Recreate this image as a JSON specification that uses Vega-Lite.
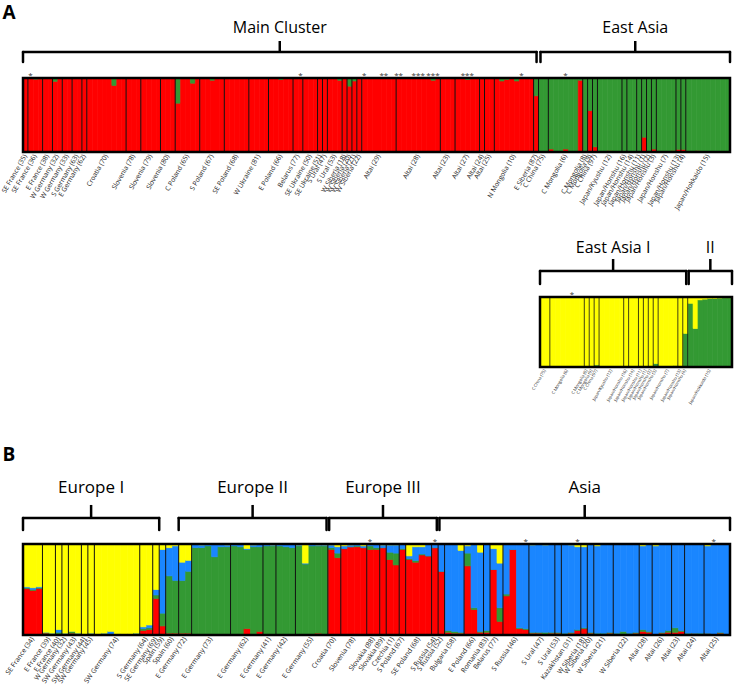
{
"$schema":"https://vega.github.io/schema/vega-lite/v6.json",
"width":738,"height":696,"autosize":"none","padding":0,"background":"white",
"config":{"view":{"stroke":null},"text":{"font":"Open Sans"}},
"datasets":{
"clusters":[{"k":"red","o":1},{"k":"green","o":2},{"k":"blue","o":3},{"k":"yellow","o":4}],
"a1":[
{"i":0,"p":"SE France (35)","red":1,"green":0},
{"i":1,"p":"SE France (36)","red":1,"green":0,"a":"*"},
{"i":2,"p":"SE France (36)","red":0.985,"green":0.015},
{"i":3,"p":"SE France (36)","red":0.99,"green":0.01},
{"i":4,"p":"E France (38)","red":1,"green":0},
{"i":5,"p":"E France (38)","red":1,"green":0},
{"i":6,"p":"W Germany (32)","red":0.955,"green":0.045},
{"i":7,"p":"W Germany (32)","red":1,"green":0},
{"i":8,"p":"W Germany (33)","red":1,"green":0},
{"i":9,"p":"W Germany (33)","red":1,"green":0},
{"i":10,"p":"S Germany (63)","red":1,"green":0},
{"i":11,"p":"S Germany (63)","red":0.995,"green":0.005},
{"i":12,"p":"E Germany (62)","red":1,"green":0},
{"i":13,"p":"Croatia (70)","red":1,"green":0},
{"i":14,"p":"Croatia (70)","red":1,"green":0},
{"i":15,"p":"Croatia (70)","red":1,"green":0},
{"i":16,"p":"Croatia (70)","red":1,"green":0},
{"i":17,"p":"Croatia (70)","red":1,"green":0},
{"i":18,"p":"Croatia (70)","red":0.9,"green":0.1},
{"i":19,"p":"Croatia (70)","red":1,"green":0},
{"i":20,"p":"Croatia (70)","red":1,"green":0},
{"i":21,"p":"Slovenia (78)","red":1,"green":0},
{"i":22,"p":"Slovenia (78)","red":1,"green":0},
{"i":23,"p":"Slovenia (78)","red":1,"green":0},
{"i":24,"p":"Slovenia (79)","red":1,"green":0},
{"i":25,"p":"Slovenia (79)","red":1,"green":0},
{"i":26,"p":"Slovenia (79)","red":1,"green":0},
{"i":27,"p":"Slovenia (79)","red":1,"green":0},
{"i":28,"p":"Slovenia (80)","red":1,"green":0},
{"i":29,"p":"Slovenia (80)","red":1,"green":0},
{"i":30,"p":"Slovenia (80)","red":1,"green":0},
{"i":31,"p":"C Poland (65)","red":0.66,"green":0.34},
{"i":32,"p":"C Poland (65)","red":1,"green":0},
{"i":33,"p":"C Poland (65)","red":1,"green":0},
{"i":34,"p":"C Poland (65)","red":0.93,"green":0.07},
{"i":35,"p":"C Poland (65)","red":1,"green":0},
{"i":36,"p":"S Poland (67)","red":1,"green":0},
{"i":37,"p":"S Poland (67)","red":1,"green":0},
{"i":38,"p":"S Poland (67)","red":0.97,"green":0.03},
{"i":39,"p":"S Poland (67)","red":1,"green":0},
{"i":40,"p":"S Poland (67)","red":1,"green":0},
{"i":41,"p":"SE Poland (68)","red":1,"green":0},
{"i":42,"p":"SE Poland (68)","red":1,"green":0},
{"i":43,"p":"SE Poland (68)","red":1,"green":0},
{"i":44,"p":"SE Poland (68)","red":0.995,"green":0.005},
{"i":45,"p":"SE Poland (68)","red":1,"green":0},
{"i":46,"p":"W Ukraine (81)","red":1,"green":0},
{"i":47,"p":"W Ukraine (81)","red":1,"green":0},
{"i":48,"p":"W Ukraine (81)","red":1,"green":0},
{"i":49,"p":"W Ukraine (81)","red":1,"green":0},
{"i":50,"p":"E Poland (66)","red":1,"green":0},
{"i":51,"p":"E Poland (66)","red":1,"green":0},
{"i":52,"p":"E Poland (66)","red":0.98,"green":0.02},
{"i":53,"p":"E Poland (66)","red":1,"green":0},
{"i":54,"p":"E Poland (66)","red":1,"green":0},
{"i":55,"p":"Belarus (77)","red":1,"green":0},
{"i":56,"p":"Belarus (77)","red":1,"green":0,"a":"*"},
{"i":57,"p":"SE Ukraine (50)","red":1,"green":0},
{"i":58,"p":"SE Ukraine (50)","red":1,"green":0},
{"i":59,"p":"SE Ukraine (50)","red":1,"green":0},
{"i":60,"p":"SE Ukraine (51)","red":1,"green":0},
{"i":61,"p":"S Ural (47)","red":1,"green":0},
{"i":62,"p":"S Ural (53)","red":1,"green":0},
{"i":63,"p":"S Ural (53)","red":1,"green":0},
{"i":64,"p":"S Ural (53)","red":0.97,"green":0.03},
{"i":65,"p":"W Siberia (18)","red":1,"green":0},
{"i":66,"p":"W Siberia (20)","red":0.89,"green":0.11},
{"i":67,"p":"W Siberia (21)","red":0.96,"green":0.04},
{"i":68,"p":"W Siberia (22)","red":1,"green":0},
{"i":69,"p":"Altai (29)","red":1,"green":0,"a":"*"},
{"i":70,"p":"Altai (29)","red":1,"green":0},
{"i":71,"p":"Altai (29)","red":1,"green":0},
{"i":72,"p":"Altai (29)","red":1,"green":0},
{"i":73,"p":"Altai (29)","red":1,"green":0,"a":"**"},
{"i":74,"p":"Altai (29)","red":1,"green":0},
{"i":75,"p":"Altai (29)","red":1,"green":0},
{"i":76,"p":"Altai (28)","red":1,"green":0,"a":"**"},
{"i":77,"p":"Altai (28)","red":1,"green":0},
{"i":78,"p":"Altai (28)","red":1,"green":0},
{"i":79,"p":"Altai (28)","red":1,"green":0},
{"i":80,"p":"Altai (28)","red":1,"green":0,"a":"***"},
{"i":81,"p":"Altai (28)","red":1,"green":0},
{"i":82,"p":"Altai (28)","red":1,"green":0},
{"i":83,"p":"Altai (28)","red":0.97,"green":0.03,"a":"***"},
{"i":84,"p":"Altai (28)","red":1,"green":0},
{"i":85,"p":"Altai (23)","red":1,"green":0},
{"i":86,"p":"Altai (23)","red":1,"green":0},
{"i":87,"p":"Altai (23)","red":1,"green":0},
{"i":88,"p":"Altai (27)","red":1,"green":0},
{"i":89,"p":"Altai (27)","red":1,"green":0},
{"i":90,"p":"Altai (27)","red":0.98,"green":0.02,"a":"***"},
{"i":91,"p":"Altai (27)","red":1,"green":0},
{"i":92,"p":"Altai (27)","red":1,"green":0},
{"i":93,"p":"Altai (24)","red":1,"green":0},
{"i":94,"p":"Altai (25)","red":1,"green":0},
{"i":95,"p":"Altai (25)","red":1,"green":0},
{"i":96,"p":"N Mongolia (10)","red":1,"green":0},
{"i":97,"p":"N Mongolia (10)","red":0.96,"green":0.04},
{"i":98,"p":"N Mongolia (10)","red":0.98,"green":0.02},
{"i":99,"p":"N Mongolia (10)","red":1,"green":0},
{"i":100,"p":"N Mongolia (10)","red":0.96,"green":0.04},
{"i":101,"p":"N Mongolia (10)","red":1,"green":0,"a":"*"},
{"i":102,"p":"N Mongolia (10)","red":1,"green":0},
{"i":103,"p":"N Mongolia (10)","red":1,"green":0},
{"i":104,"p":"E Siberia (87)","red":0.76,"green":0.24},
{"i":105,"p":"C China (75)","red":0,"green":1},
{"i":106,"p":"C China (75)","red":0.01,"green":0.99},
{"i":107,"p":"C Mongolia (6)","red":0.04,"green":0.96},
{"i":108,"p":"C Mongolia (6)","red":0,"green":1},
{"i":109,"p":"C Mongolia (6)","red":0,"green":1},
{"i":110,"p":"C Mongolia (6)","red":0.04,"green":0.96,"a":"*"},
{"i":111,"p":"C Mongolia (6)","red":0,"green":1},
{"i":112,"p":"C Mongolia (6)","red":0,"green":1},
{"i":113,"p":"C Mongolia (6)","red":0.97,"green":0.03},
{"i":114,"p":"C Mongolia (8)","red":0,"green":1},
{"i":115,"p":"C Mongolia (9)","red":0.56,"green":0.44},
{"i":116,"p":"C China (97)","red":0.07,"green":0.93},
{"i":117,"p":"Japan/Kyushu (12)","red":0,"green":1},
{"i":118,"p":"Japan/Kyushu (12)","red":0,"green":1},
{"i":119,"p":"Japan/Kyushu (12)","red":0.02,"green":0.98},
{"i":120,"p":"Japan/Kyushu (12)","red":0,"green":1},
{"i":121,"p":"Japan/Kyushu (12)","red":0,"green":1},
{"i":122,"p":"Japan/Honshu (16)","red":0,"green":1},
{"i":123,"p":"Japan/Honshu (14)","red":0.01,"green":0.99},
{"i":124,"p":"Japan/Honshu (14)","red":0,"green":1},
{"i":125,"p":"Japan/Honshu (11)","red":0,"green":1},
{"i":126,"p":"Japan/Honshu (1)","red":0.2,"green":0.8},
{"i":127,"p":"Japan/Honshu (2)","red":0.01,"green":0.99},
{"i":128,"p":"Japan/Honshu (3)","red":0.04,"green":0.96},
{"i":129,"p":"Japan/Honshu (7)","red":0.01,"green":0.99},
{"i":130,"p":"Japan/Honshu (7)","red":0.01,"green":0.99},
{"i":131,"p":"Japan/Honshu (7)","red":0.01,"green":0.99},
{"i":132,"p":"Japan/Honshu (7)","red":0.02,"green":0.98},
{"i":133,"p":"Japan/Honshu (13)","red":0.035,"green":0.965},
{"i":134,"p":"Japan/Honshu (4)","red":0.035,"green":0.965},
{"i":135,"p":"Japan/Hokkaido (15)","red":0,"green":1},
{"i":136,"p":"Japan/Hokkaido (15)","red":0.01,"green":0.99},
{"i":137,"p":"Japan/Hokkaido (15)","red":0.02,"green":0.98},
{"i":138,"p":"Japan/Hokkaido (15)","red":0.005,"green":0.995},
{"i":139,"p":"Japan/Hokkaido (15)","red":0,"green":1},
{"i":140,"p":"Japan/Hokkaido (15)","red":0,"green":1},
{"i":141,"p":"Japan/Hokkaido (15)","red":0,"green":1},
{"i":142,"p":"Japan/Hokkaido (15)","red":0,"green":1},
{"i":143,"p":"Japan/Hokkaido (15)","red":0,"green":1}
],
"a2":[
{"j":0,"p":"C China (75)","green":0.01,"yellow":0.99},
{"j":1,"p":"C China (75)","green":0,"yellow":1},
{"j":2,"p":"C Mongolia (6)","green":0,"yellow":1},
{"j":3,"p":"C Mongolia (6)","green":0,"yellow":1},
{"j":4,"p":"C Mongolia (6)","green":0,"yellow":1},
{"j":5,"p":"C Mongolia (6)","green":0,"yellow":1},
{"j":6,"p":"C Mongolia (6)","green":0,"yellow":1,"a":"*"},
{"j":7,"p":"C Mongolia (6)","green":0,"yellow":1},
{"j":8,"p":"C Mongolia (6)","green":0.01,"yellow":0.99},
{"j":9,"p":"C Mongolia (8)","green":0,"yellow":1},
{"j":10,"p":"C Mongolia (9)","green":0.01,"yellow":0.99},
{"j":11,"p":"C China (97)","green":0.03,"yellow":0.97},
{"j":12,"p":"Japan/Kyushu (12)","green":0,"yellow":1},
{"j":13,"p":"Japan/Kyushu (12)","green":0,"yellow":1},
{"j":14,"p":"Japan/Kyushu (12)","green":0.01,"yellow":0.99},
{"j":15,"p":"Japan/Kyushu (12)","green":0,"yellow":1},
{"j":16,"p":"Japan/Kyushu (12)","green":0,"yellow":1},
{"j":17,"p":"Japan/Honshu (16)","green":0,"yellow":1},
{"j":18,"p":"Japan/Honshu (14)","green":0.01,"yellow":0.99},
{"j":19,"p":"Japan/Honshu (14)","green":0.01,"yellow":0.99},
{"j":20,"p":"Japan/Honshu (11)","green":0.01,"yellow":0.99},
{"j":21,"p":"Japan/Honshu (1)","green":0.01,"yellow":0.99},
{"j":22,"p":"Japan/Honshu (2)","green":0.01,"yellow":0.99},
{"j":23,"p":"Japan/Honshu (3)","green":0.05,"yellow":0.95},
{"j":24,"p":"Japan/Honshu (7)","green":0,"yellow":1},
{"j":25,"p":"Japan/Honshu (7)","green":0,"yellow":1},
{"j":26,"p":"Japan/Honshu (7)","green":0.01,"yellow":0.99},
{"j":27,"p":"Japan/Honshu (7)","green":0.02,"yellow":0.98},
{"j":28,"p":"Japan/Honshu (13)","green":0.01,"yellow":0.99},
{"j":29,"p":"Japan/Honshu (4)","green":0.48,"yellow":0.52},
{"j":30,"p":"Japan/Hokkaido (15)","green":0.91,"yellow":0.09},
{"j":31,"p":"Japan/Hokkaido (15)","green":0.55,"yellow":0.45},
{"j":32,"p":"Japan/Hokkaido (15)","green":0.96,"yellow":0.04},
{"j":33,"p":"Japan/Hokkaido (15)","green":0.97,"yellow":0.03},
{"j":34,"p":"Japan/Hokkaido (15)","green":0.98,"yellow":0.02},
{"j":35,"p":"Japan/Hokkaido (15)","green":0.98,"yellow":0.02},
{"j":36,"p":"Japan/Hokkaido (15)","green":0.985,"yellow":0.015},
{"j":37,"p":"Japan/Hokkaido (15)","green":0.99,"yellow":0.01},
{"j":38,"p":"Japan/Hokkaido (15)","green":0.99,"yellow":0.01}
],
"b":[
{"i":0,"p":"SE France (34)","red":0.51,"green":0.01,"blue":0.01,"yellow":0.47},
{"i":1,"p":"SE France (34)","red":0.49,"green":0.01,"blue":0.02,"yellow":0.48},
{"i":2,"p":"SE France (34)","red":0.51,"green":0.01,"blue":0.01,"yellow":0.47},
{"i":3,"p":"E France (39)","red":0.02,"green":0.01,"blue":0,"yellow":0.97},
{"i":4,"p":"E France (39)","red":0.01,"green":0.01,"blue":0,"yellow":0.98},
{"i":5,"p":"E France (40)","red":0.01,"green":0.02,"blue":0.03,"yellow":0.94},
{"i":6,"p":"W Germany (32)","red":0.01,"green":0.01,"blue":0,"yellow":0.98},
{"i":7,"p":"SW Germany (43)","red":0.02,"green":0.02,"blue":0,"yellow":0.96},
{"i":8,"p":"SW Germany (43)","red":0.01,"green":0.01,"blue":0,"yellow":0.98},
{"i":9,"p":"SW Germany (44)","red":0.01,"green":0,"blue":0,"yellow":0.99},
{"i":10,"p":"SW Germany (45)","red":0,"green":0.02,"blue":0,"yellow":0.98},
{"i":11,"p":"SW Germany (74)","red":0.01,"green":0,"blue":0,"yellow":0.99},
{"i":12,"p":"SW Germany (74)","red":0.01,"green":0.01,"blue":0,"yellow":0.98},
{"i":13,"p":"SW Germany (74)","red":0,"green":0.01,"blue":0.03,"yellow":0.96},
{"i":14,"p":"SW Germany (74)","red":0,"green":0.01,"blue":0,"yellow":0.99},
{"i":15,"p":"SW Germany (74)","red":0,"green":0,"blue":0.01,"yellow":0.99},
{"i":16,"p":"SW Germany (74)","red":0.01,"green":0,"blue":0,"yellow":0.99},
{"i":17,"p":"SW Germany (74)","red":0.01,"green":0.01,"blue":0,"yellow":0.98},
{"i":18,"p":"S Germany (64)","red":0.05,"green":0.02,"blue":0.02,"yellow":0.91},
{"i":19,"p":"S Germany (64)","red":0.06,"green":0.02,"blue":0.03,"yellow":0.89},
{"i":20,"p":"SE Germany (69)","red":0.4,"green":0.04,"blue":0.06,"yellow":0.5},
{"i":21,"p":"Spain (59)","red":0.1,"green":0.14,"blue":0.7,"yellow":0.06},
{"i":22,"p":"Spain (60)","red":0.02,"green":0.63,"blue":0.31,"yellow":0.04},
{"i":23,"p":"Spain (60)","red":0.02,"green":0.58,"blue":0.38,"yellow":0.02},
{"i":24,"p":"E Germany (72)","red":0.02,"green":0.58,"blue":0.2,"yellow":0.2},
{"i":25,"p":"E Germany (72)","red":0.02,"green":0.68,"blue":0.12,"yellow":0.18},
{"i":26,"p":"E Germany (73)","red":0.01,"green":0.95,"blue":0.04,"yellow":0},
{"i":27,"p":"E Germany (73)","red":0.01,"green":0.95,"blue":0.03,"yellow":0.01},
{"i":28,"p":"E Germany (73)","red":0.01,"green":0.97,"blue":0.02,"yellow":0},
{"i":29,"p":"E Germany (73)","red":0.01,"green":0.85,"blue":0.14,"yellow":0},
{"i":30,"p":"E Germany (73)","red":0.01,"green":0.96,"blue":0.03,"yellow":0},
{"i":31,"p":"E Germany (73)","red":0.01,"green":0.96,"blue":0.02,"yellow":0.01},
{"i":32,"p":"E Germany (62)","red":0.01,"green":0.97,"blue":0.02,"yellow":0},
{"i":33,"p":"E Germany (62)","red":0.01,"green":0.96,"blue":0.03,"yellow":0},
{"i":34,"p":"E Germany (62)","red":0.07,"green":0.87,"blue":0.01,"yellow":0.05},
{"i":35,"p":"E Germany (62)","red":0.01,"green":0.96,"blue":0.02,"yellow":0.01},
{"i":36,"p":"E Germany (62)","red":0.04,"green":0.93,"blue":0.03,"yellow":0},
{"i":37,"p":"E Germany (41)","red":0.01,"green":0.97,"blue":0.02,"yellow":0},
{"i":38,"p":"E Germany (41)","red":0.01,"green":0.97,"blue":0.01,"yellow":0.01},
{"i":39,"p":"E Germany (42)","red":0.01,"green":0.97,"blue":0.02,"yellow":0},
{"i":40,"p":"E Germany (42)","red":0.01,"green":0.96,"blue":0.03,"yellow":0},
{"i":41,"p":"E Germany (42)","red":0.01,"green":0.95,"blue":0.04,"yellow":0},
{"i":42,"p":"E Germany (55)","red":0.01,"green":0.97,"blue":0.01,"yellow":0.01},
{"i":43,"p":"E Germany (55)","red":0.01,"green":0.77,"blue":0.01,"yellow":0.21},
{"i":44,"p":"E Germany (55)","red":0.01,"green":0.97,"blue":0.02,"yellow":0},
{"i":45,"p":"E Germany (55)","red":0.02,"green":0.96,"blue":0.01,"yellow":0.01},
{"i":46,"p":"E Germany (55)","red":0.01,"green":0.97,"blue":0.01,"yellow":0.01},
{"i":47,"p":"Croatia (70)","red":0.94,"green":0.02,"blue":0.03,"yellow":0.01},
{"i":48,"p":"Croatia (70)","red":0.85,"green":0.05,"blue":0.07,"yellow":0.03},
{"i":49,"p":"Slovenia (78)","red":0.95,"green":0,"blue":0.03,"yellow":0.02},
{"i":50,"p":"Slovenia (78)","red":0.97,"green":0,"blue":0.02,"yellow":0.01},
{"i":51,"p":"Slovenia (78)","red":0.97,"green":0.01,"blue":0.02,"yellow":0},
{"i":52,"p":"Slovenia (78)","red":0.96,"green":0,"blue":0.02,"yellow":0.02},
{"i":53,"p":"Slovakia (88)","red":0.94,"green":0.04,"blue":0.02,"yellow":0,"a":"*"},
{"i":54,"p":"Slovakia (88)","red":0.94,"green":0.02,"blue":0.04,"yellow":0},
{"i":55,"p":"Slovakia (89)","red":0.96,"green":0,"blue":0.03,"yellow":0.01},
{"i":56,"p":"Czechia (1)","red":0.83,"green":0.08,"blue":0.08,"yellow":0.01},
{"i":57,"p":"Czechia (1)","red":0.77,"green":0.13,"blue":0.09,"yellow":0.01},
{"i":58,"p":"S Poland (67)","red":0.94,"green":0.01,"blue":0.05,"yellow":0},
{"i":59,"p":"SE Poland (68)","red":0.83,"green":0.01,"blue":0.03,"yellow":0.13},
{"i":60,"p":"SE Poland (68)","red":0.8,"green":0.02,"blue":0.15,"yellow":0.03},
{"i":61,"p":"SE Poland (68)","red":0.88,"green":0.01,"blue":0.08,"yellow":0.03},
{"i":62,"p":"SE Poland (68)","red":0.87,"green":0,"blue":0.13,"yellow":0},
{"i":63,"p":"S Russia (54)","red":0.96,"green":0,"blue":0.04,"yellow":0,"a":"*"},
{"i":64,"p":"S Russia (52)","red":0.7,"green":0,"blue":0.3,"yellow":0},
{"i":65,"p":"Bulgaria (58)","red":0.03,"green":0.02,"blue":0.95,"yellow":0},
{"i":66,"p":"Bulgaria (58)","red":0.02,"green":0.02,"blue":0.96,"yellow":0},
{"i":67,"p":"Bulgaria (58)","red":0.02,"green":0.01,"blue":0.9,"yellow":0.07},
{"i":68,"p":"E Poland (66)","red":0.76,"green":0.14,"blue":0.08,"yellow":0.02},
{"i":69,"p":"E Poland (66)","red":0.28,"green":0.02,"blue":0.7,"yellow":0},
{"i":70,"p":"E Poland (66)","red":0.03,"green":0.01,"blue":0.87,"yellow":0.09},
{"i":71,"p":"Romania (83)","red":0.03,"green":0.02,"blue":0.95,"yellow":0},
{"i":72,"p":"Belarus (77)","red":0.72,"green":0,"blue":0.23,"yellow":0.05},
{"i":73,"p":"Belarus (77)","red":0.15,"green":0.15,"blue":0.49,"yellow":0.21},
{"i":74,"p":"S Russia (46)","red":0.43,"green":0.02,"blue":0.55,"yellow":0},
{"i":75,"p":"S Russia (46)","red":0.94,"green":0,"blue":0.06,"yellow":0},
{"i":76,"p":"S Russia (46)","red":0.07,"green":0.01,"blue":0.92,"yellow":0},
{"i":77,"p":"S Russia (46)","red":0.06,"green":0.01,"blue":0.93,"yellow":0,"a":"*"},
{"i":78,"p":"S Ural (47)","red":0.02,"green":0.01,"blue":0.96,"yellow":0.01},
{"i":79,"p":"S Ural (47)","red":0.02,"green":0.01,"blue":0.97,"yellow":0},
{"i":80,"p":"S Ural (47)","red":0.01,"green":0.02,"blue":0.96,"yellow":0.01},
{"i":81,"p":"S Ural (47)","red":0.02,"green":0.01,"blue":0.97,"yellow":0},
{"i":82,"p":"S Ural (53)","red":0.02,"green":0.01,"blue":0.97,"yellow":0},
{"i":83,"p":"Kazakhstan (31)","red":0.01,"green":0.01,"blue":0.98,"yellow":0},
{"i":84,"p":"Kazakhstan (31)","red":0.02,"green":0.01,"blue":0.96,"yellow":0.01},
{"i":85,"p":"Kazakhstan (31)","red":0.05,"green":0.01,"blue":0.91,"yellow":0.03,"a":"*"},
{"i":86,"p":"W Siberia (18)","red":0.07,"green":0.01,"blue":0.89,"yellow":0.03},
{"i":87,"p":"W Siberia (20)","red":0.02,"green":0.01,"blue":0.97,"yellow":0},
{"i":88,"p":"W Siberia (21)","red":0.01,"green":0.01,"blue":0.96,"yellow":0.02},
{"i":89,"p":"W Siberia (21)","red":0.01,"green":0.01,"blue":0.98,"yellow":0},
{"i":90,"p":"W Siberia (21)","red":0.02,"green":0.01,"blue":0.97,"yellow":0},
{"i":91,"p":"W Siberia (22)","red":0.01,"green":0.01,"blue":0.98,"yellow":0},
{"i":92,"p":"W Siberia (22)","red":0.01,"green":0.03,"blue":0.96,"yellow":0},
{"i":93,"p":"W Siberia (22)","red":0.01,"green":0.01,"blue":0.98,"yellow":0},
{"i":94,"p":"W Siberia (22)","red":0.02,"green":0.01,"blue":0.97,"yellow":0},
{"i":95,"p":"Altai (28)","red":0.04,"green":0.02,"blue":0.92,"yellow":0.02},
{"i":96,"p":"Altai (28)","red":0.03,"green":0.01,"blue":0.96,"yellow":0},
{"i":97,"p":"Altai (26)","red":0.01,"green":0,"blue":0.97,"yellow":0.02},
{"i":98,"p":"Altai (26)","red":0.02,"green":0.01,"blue":0.97,"yellow":0},
{"i":99,"p":"Altai (26)","red":0.03,"green":0.02,"blue":0.95,"yellow":0},
{"i":100,"p":"Altai (23)","red":0.03,"green":0.05,"blue":0.92,"yellow":0},
{"i":101,"p":"Altai (23)","red":0.04,"green":0.01,"blue":0.95,"yellow":0},
{"i":102,"p":"Altai (24)","red":0.01,"green":0.01,"blue":0.98,"yellow":0},
{"i":103,"p":"Altai (24)","red":0.02,"green":0,"blue":0.98,"yellow":0},
{"i":104,"p":"Altai (24)","red":0.01,"green":0.01,"blue":0.98,"yellow":0},
{"i":105,"p":"Altai (25)","red":0.02,"green":0,"blue":0.96,"yellow":0.02},
{"i":106,"p":"Altai (25)","red":0.01,"green":0,"blue":0.99,"yellow":0,"a":"*"},
{"i":107,"p":"Altai (25)","red":0.02,"green":0.01,"blue":0.97,"yellow":0},
{"i":108,"p":"Altai (25)","red":0.01,"green":0,"blue":0.99,"yellow":0}
],
"bra1":[{"b":"Main Cluster","s":0,"e":104.6},{"b":"East Asia","s":105.4,"e":144}],
"bra2":[{"b":"East Asia I","s":0,"e":29.7},{"b":"II","s":30.2,"e":39}],
"brb":[{"b":"Europe I","s":0,"e":21},{"b":"Europe II","s":24,"e":46.8},{"b":"Europe III","s":47.2,"e":63.8},{"b":"Asia","s":64.2,"e":109}]
},
"layer":[
{"layer":[
 {"data":{"name":"a1"},"transform":[{"fold":["red","green"],"as":["k","v"]},{"lookup":"k","from":{"data":{"name":"clusters"},"key":"k","fields":["o"]}}],
  "mark":{"type":"bar","binSpacing":0,"strokeWidth":0.7},
  "encoding":{
   "x":{"field":"i","type":"quantitative","bin":{"binned":true,"step":1},"scale":{"domain":[0,144],"range":[23,730],"nice":false,"zero":false},"axis":null},
   "y":{"field":"v","type":"quantitative","stack":"normalize","scale":{"domain":[0,1],"range":[152,78],"nice":false},"axis":null},
   "color":{"field":"k","type":"nominal","scale":{"domain":["red","green","blue","yellow"],"range":["#ff0000","#339933","#1a86ff","#ffff00"]},"legend":null},
   "stroke":{"field":"k","type":"nominal","scale":{"domain":["red","green","blue","yellow"],"range":["#ff0000","#339933","#1a86ff","#ffff00"]},"legend":null},
   "order":{"field":"o","type":"quantitative"}}},
 {"data":{"name":"a1"},"transform":[{"aggregate":[{"op":"min","field":"i","as":"s"}],"groupby":["p"]}],
  "mark":{"type":"rule","color":"#111","strokeWidth":1},
  "encoding":{"x":{"field":"s","type":"quantitative"},"y":{"datum":0},"y2":{"datum":1}}},
 {"data":{"values":[{}]},"mark":{"type":"rect","fillOpacity":0,"stroke":"#000","strokeWidth":2.5},
  "encoding":{"x":{"datum":0},"x2":{"datum":144},"y":{"datum":0},"y2":{"datum":1}}},
 {"data":{"name":"a1"},"transform":[{"aggregate":[{"op":"mean","field":"i","as":"m"}],"groupby":["p"]}],
  "mark":{"type":"text","angle":-60,"align":"right","baseline":"middle","fontSize":6.7,"xOffset":2.45,"yOffset":3,"color":"#222"},
  "encoding":{"x":{"field":"m","type":"quantitative"},"y":{"datum":0},"text":{"field":"p"}}},
 {"data":{"name":"a1"},"transform":[{"filter":"datum.a"}],
  "mark":{"type":"text","fontSize":8,"baseline":"alphabetic","xOffset":2.45,"color":"#333"},
  "encoding":{"x":{"field":"i","type":"quantitative"},"y":{"datum":0.995},"text":{"field":"a"}}},
 {"data":{"name":"bra1"},"layer":[
  {"mark":{"type":"rule","color":"#000","strokeWidth":2.5,"strokeCap":"round"},"encoding":{"x":{"field":"s","type":"quantitative"},"x2":{"field":"e"},"y":{"datum":1.351}}},
  {"mark":{"type":"rule","color":"#000","strokeWidth":2.5,"strokeCap":"round"},"encoding":{"x":{"field":"s","type":"quantitative"},"y":{"datum":1.351},"y2":{"datum":1.216}}},
  {"mark":{"type":"rule","color":"#000","strokeWidth":2.5,"strokeCap":"round"},"encoding":{"x":{"field":"e","type":"quantitative"},"y":{"datum":1.351},"y2":{"datum":1.216}}},
  {"transform":[{"fold":["s","e"],"as":["w","q"]},{"aggregate":[{"op":"mean","field":"q","as":"mid"}],"groupby":["b"]}],"layer":[
   {"mark":{"type":"rule","color":"#000","strokeWidth":2.5},"encoding":{"x":{"field":"mid","type":"quantitative"},"y":{"datum":1.351},"y2":{"datum":1.5}}},
   {"mark":{"type":"text","fontSize":16,"baseline":"middle","color":"#000"},"encoding":{"x":{"field":"mid","type":"quantitative"},"y":{"datum":1.676},"text":{"field":"b"}}}
  ]}
 ]},
 {"data":{"values":[{"t":"A"}]},"mark":{"type":"text","fontSize":19,"fontWeight":"bold","baseline":"middle","color":"#000"},
  "encoding":{"x":{"datum":-2.85},"y":{"datum":1.885},"text":{"field":"t"}}}
]},
{"layer":[
 {"data":{"name":"a2"},"transform":[{"fold":["green","yellow"],"as":["k","v"]},{"lookup":"k","from":{"data":{"name":"clusters"},"key":"k","fields":["o"]}}],
  "mark":{"type":"bar","binSpacing":0,"strokeWidth":0.7},
  "encoding":{
   "x":{"field":"j","type":"quantitative","bin":{"binned":true,"step":1},"scale":{"domain":[0,39],"range":[540,732],"nice":false,"zero":false},"axis":null},
   "y":{"field":"v","type":"quantitative","stack":"normalize","scale":{"domain":[0,1],"range":[367,297],"nice":false},"axis":null},
   "color":{"field":"k","type":"nominal","scale":{"domain":["red","green","blue","yellow"],"range":["#ff0000","#339933","#1a86ff","#ffff00"]},"legend":null},
   "stroke":{"field":"k","type":"nominal","scale":{"domain":["red","green","blue","yellow"],"range":["#ff0000","#339933","#1a86ff","#ffff00"]},"legend":null},
   "order":{"field":"o","type":"quantitative"}}},
 {"data":{"name":"a2"},"transform":[{"aggregate":[{"op":"min","field":"j","as":"s"}],"groupby":["p"]}],
  "mark":{"type":"rule","color":"#111","strokeWidth":0.8},
  "encoding":{"x":{"field":"s","type":"quantitative"},"y":{"datum":0},"y2":{"datum":1}}},
 {"data":{"values":[{}]},"mark":{"type":"rect","fillOpacity":0,"stroke":"#000","strokeWidth":2.5},
  "encoding":{"x":{"datum":0},"x2":{"datum":39},"y":{"datum":0},"y2":{"datum":1}}},
 {"data":{"name":"a2"},"transform":[{"aggregate":[{"op":"mean","field":"j","as":"m"}],"groupby":["p"]}],
  "mark":{"type":"text","angle":-60,"align":"right","baseline":"middle","fontSize":4.2,"xOffset":2.46,"yOffset":3,"color":"#222"},
  "encoding":{"x":{"field":"m","type":"quantitative"},"y":{"datum":0},"text":{"field":"p"}}},
 {"data":{"name":"a2"},"transform":[{"filter":"datum.a"}],
  "mark":{"type":"text","fontSize":8,"baseline":"alphabetic","xOffset":2.46,"color":"#333"},
  "encoding":{"x":{"field":"j","type":"quantitative"},"y":{"datum":0.995},"text":{"field":"a"}}},
 {"data":{"name":"bra2"},"layer":[
  {"mark":{"type":"rule","color":"#000","strokeWidth":2.5,"strokeCap":"round"},"encoding":{"x":{"field":"s","type":"quantitative"},"x2":{"field":"e"},"y":{"datum":1.371}}},
  {"mark":{"type":"rule","color":"#000","strokeWidth":2.5,"strokeCap":"round"},"encoding":{"x":{"field":"s","type":"quantitative"},"y":{"datum":1.371},"y2":{"datum":1.186}}},
  {"mark":{"type":"rule","color":"#000","strokeWidth":2.5,"strokeCap":"round"},"encoding":{"x":{"field":"e","type":"quantitative"},"y":{"datum":1.371},"y2":{"datum":1.186}}},
  {"transform":[{"fold":["s","e"],"as":["w","q"]},{"aggregate":[{"op":"mean","field":"q","as":"mid"}],"groupby":["b"]}],"layer":[
   {"mark":{"type":"rule","color":"#000","strokeWidth":2.5},"encoding":{"x":{"field":"mid","type":"quantitative"},"y":{"datum":1.371},"y2":{"datum":1.543}}},
   {"mark":{"type":"text","fontSize":16,"baseline":"middle","color":"#000"},"encoding":{"x":{"field":"mid","type":"quantitative"},"y":{"datum":1.7},"text":{"field":"b"}}}
  ]}
 ]}
]},
{"layer":[
 {"data":{"name":"b"},"transform":[{"fold":["red","green","blue","yellow"],"as":["k","v"]},{"lookup":"k","from":{"data":{"name":"clusters"},"key":"k","fields":["o"]}}],
  "mark":{"type":"bar","binSpacing":0,"strokeWidth":0.7},
  "encoding":{
   "x":{"field":"i","type":"quantitative","bin":{"binned":true,"step":1},"scale":{"domain":[0,109],"range":[23,730],"nice":false,"zero":false},"axis":null},
   "y":{"field":"v","type":"quantitative","stack":"normalize","scale":{"domain":[0,1],"range":[635,544],"nice":false},"axis":null},
   "color":{"field":"k","type":"nominal","scale":{"domain":["red","green","blue","yellow"],"range":["#ff0000","#339933","#1a86ff","#ffff00"]},"legend":null},
   "stroke":{"field":"k","type":"nominal","scale":{"domain":["red","green","blue","yellow"],"range":["#ff0000","#339933","#1a86ff","#ffff00"]},"legend":null},
   "order":{"field":"o","type":"quantitative"}}},
 {"data":{"name":"b"},"transform":[{"aggregate":[{"op":"min","field":"i","as":"s"}],"groupby":["p"]}],
  "mark":{"type":"rule","color":"#111","strokeWidth":1},
  "encoding":{"x":{"field":"s","type":"quantitative"},"y":{"datum":0},"y2":{"datum":1}}},
 {"data":{"values":[{}]},"mark":{"type":"rect","fillOpacity":0,"stroke":"#000","strokeWidth":2.5},
  "encoding":{"x":{"datum":0},"x2":{"datum":109},"y":{"datum":0},"y2":{"datum":1}}},
 {"data":{"name":"b"},"transform":[{"aggregate":[{"op":"mean","field":"i","as":"m"}],"groupby":["p"]}],
  "mark":{"type":"text","angle":-55,"align":"right","baseline":"middle","fontSize":6.8,"xOffset":3.24,"yOffset":3,"color":"#222"},
  "encoding":{"x":{"field":"m","type":"quantitative"},"y":{"datum":0},"text":{"field":"p"}}},
 {"data":{"name":"b"},"transform":[{"filter":"datum.a"}],
  "mark":{"type":"text","fontSize":8,"baseline":"alphabetic","xOffset":3.24,"color":"#333"},
  "encoding":{"x":{"field":"i","type":"quantitative"},"y":{"datum":0.995},"text":{"field":"a"}}},
 {"data":{"name":"brb"},"layer":[
  {"mark":{"type":"rule","color":"#000","strokeWidth":2.5,"strokeCap":"round"},"encoding":{"x":{"field":"s","type":"quantitative"},"x2":{"field":"e"},"y":{"datum":1.286}}},
  {"mark":{"type":"rule","color":"#000","strokeWidth":2.5,"strokeCap":"round"},"encoding":{"x":{"field":"s","type":"quantitative"},"y":{"datum":1.286},"y2":{"datum":1.154}}},
  {"mark":{"type":"rule","color":"#000","strokeWidth":2.5,"strokeCap":"round"},"encoding":{"x":{"field":"e","type":"quantitative"},"y":{"datum":1.286},"y2":{"datum":1.154}}},
  {"transform":[{"fold":["s","e"],"as":["w","q"]},{"aggregate":[{"op":"mean","field":"q","as":"mid"}],"groupby":["b"]}],"layer":[
   {"mark":{"type":"rule","color":"#000","strokeWidth":2.5},"encoding":{"x":{"field":"mid","type":"quantitative"},"y":{"datum":1.286},"y2":{"datum":1.429}}},
   {"mark":{"type":"text","fontSize":17,"baseline":"middle","color":"#000"},"encoding":{"x":{"field":"mid","type":"quantitative"},"y":{"datum":1.615},"text":{"field":"b"}}}
  ]}
 ]},
 {"data":{"values":[{"t":"B"}]},"mark":{"type":"text","fontSize":19,"fontWeight":"bold","baseline":"middle","color":"#000"},
  "encoding":{"x":{"datum":-2.16},"y":{"datum":1.978},"text":{"field":"t"}}}
]}
],
"resolve":{"scale":{"x":"independent","y":"independent"}}
}
